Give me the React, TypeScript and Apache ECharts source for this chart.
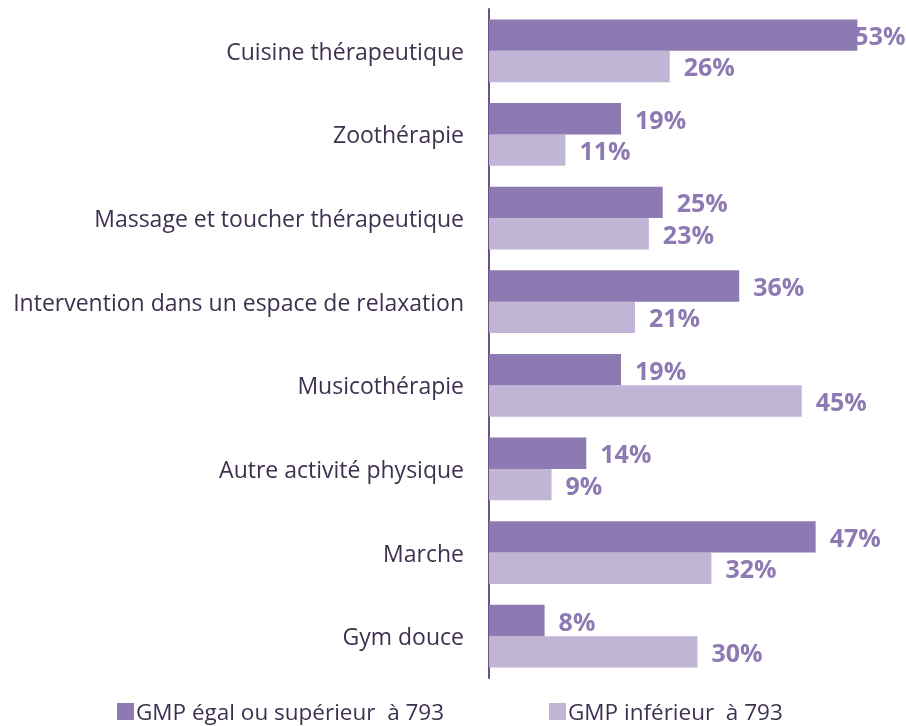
import React, { useEffect, useRef } from "react";
import * as echarts from "echarts";

const categories = [
  "Cuisine thérapeutique",
  "Zoothérapie",
  "Massage et toucher thérapeutique",
  "Intervention dans un espace de relaxation",
  "Musicothérapie",
  "Autre activité physique",
  "Marche",
  "Gym douce",
];
const seriesNames = ["GMP égal ou supérieur  à 793", "GMP inférieur  à 793"];
const highValues = [53, 19, 25, 36, 19, 14, 47, 8];
const lowValues = [26, 11, 23, 21, 45, 9, 32, 30];

const DARK = "#8e7ab2";
const LIGHT = "#c1b5d6";
const TEXT = "#3e3150";
const FONT = "'Open Sans', sans-serif";

export default function App() {
  const ref = useRef<HTMLDivElement>(null);
  useEffect(() => {
    document.body.style.margin = "0";
    document.body.style.overflow = "hidden";
    if (!ref.current) return;
    const chart = echarts.init(ref.current, undefined, { renderer: "svg" });
    const labelStyle = {
      show: true,
      position: "right",
      distance: 14,
      formatter: "{c}%",
      color: DARK,
      fontFamily: FONT,
      fontWeight: "bold",
      fontSize: 25,
    };
    const maxX = 60;
    const highData = highValues.map((v) =>
      v === Math.max(...highValues) ? { value: v, label: { offset: [-17, 0] } } : v
    );
    const legendBase = {
      top: 700,
      padding: 0,
      icon: "rect",
      itemWidth: 17,
      itemHeight: 17,
      textStyle: { color: TEXT, fontFamily: FONT, fontSize: 22.5, padding: [0, 0, 0, -3] },
    };
    chart.setOption({
      animation: false,
      grid: { left: 489, top: 9, height: 669, width: 7 * maxX, containLabel: false },
      xAxis: {
        type: "value",
        min: 0,
        max: maxX,
        show: false,
        splitLine: { show: false },
      },
      yAxis: {
        type: "category",
        data: categories,
        inverse: true,
        axisTick: { show: false },
        axisLine: { show: true, lineStyle: { color: "#6b5089", width: 2 } },
        axisLabel: {
          margin: 25,
          color: TEXT,
          fontFamily: FONT,
          fontSize: 23,
        },
      },
      legend: [
        { ...legendBase, data: [seriesNames[0]], left: 117 },
        { ...legendBase, data: [seriesNames[1]], left: 549 },
      ],
      series: [
        {
          name: seriesNames[0],
          type: "bar",
          data: highData,
          itemStyle: { color: DARK },
          barGap: "0%",
          barCategoryGap: "25%",
          label: labelStyle,
          z: 3,
        },
        {
          name: seriesNames[1],
          type: "bar",
          data: lowValues,
          itemStyle: { color: LIGHT },
          barGap: "0%",
          barCategoryGap: "25%",
          label: labelStyle,
        },
      ],
    });
    return () => chart.dispose();
  }, []);
  return (
    <div
      ref={ref}
      style={{ position: "fixed", left: 0, top: 0, width: 906, height: 726, overflow: "hidden" }}
    />
  );
}
